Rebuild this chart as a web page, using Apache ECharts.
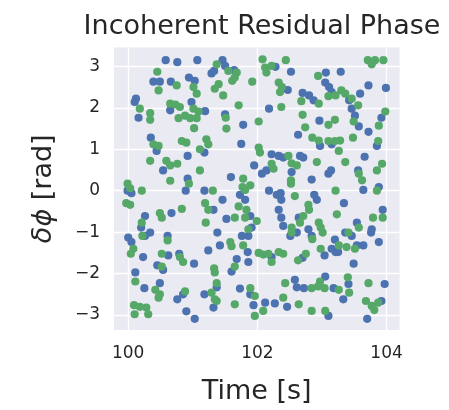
<!DOCTYPE html>
<html>
<head>
<meta charset="utf-8">
<script src="https://cdn.jsdelivr.net/npm/echarts@6/dist/echarts.min.js"></script>
<style>html,body{margin:0;padding:0;background:#fff}#c{width:449px;height:410px}</style>
</head>
<body>
<div id="c"></div>
<script>
const titleText = 'Incoherent Residual Phase';
const xName = 'Time [s]';
const yNameMath = 'δϕ';
const yNameUnit = ' [rad]';
const xTicks = [100, 102, 104];
const yTicks = [-3, -2, -1, 0, 1, 2, 3];

const blueTime = [100.58,100.76,101.07,101.46,101.50,102.52,102.28,101.29,101.33,101.64,103.06,103.29,100.39,100.49,100.66,100.94,101.03,102.47,103.05,103.11,103.15,103.42,103.59,103.72,103.99,100.12,100.10,100.65,100.98,101.19,102.70,102.80,102.87,102.18,103.46,100.16,101.50,101.78,102.96,103.51,103.57,103.92,100.35,100.44,100.92,101.18,101.75,102.63,102.97,103.15,103.72,103.85,100.54,100.92,101.95,102.07,102.22,102.14,102.33,102.40,102.53,102.66,102.71,102.84,103.10,103.14,103.56,103.66,101.59,102.18,102.36,103.64,103.88,99.99,100.05,100.89,101.18,101.46,101.32,101.73,101.81,102.30,102.37,102.33,102.88,102.92,103.34,103.94,100.67,100.26,100.20,100.34,101.52,101.91,101.89,102.37,102.40,102.64,102.79,103.54,103.77,100.00,100.05,100.26,100.61,101.38,101.76,101.86,101.42,101.24,102.51,102.61,102.84,103.20,103.21,103.36,103.46,103.54,103.64,103.76,103.88,100.23,100.62,100.79,101.02,100.45,100.54,101.60,101.68,101.85,101.86,102.22,102.70,103.04,103.15,103.25,103.49,100.11,100.25,100.49,100.76,100.85,101.18,101.37,101.73,101.89,102.58,102.61,102.72,103.18,103.05,103.41,103.97,100.90,101.03,101.32,101.94,102.12,102.27,102.46,103.10,103.33,103.70,103.92];
const bluePhase = [3.15,3.10,3.15,3.15,3.01,2.87,2.99,2.83,2.89,2.91,2.85,2.87,2.63,2.63,2.63,2.73,2.65,2.43,2.61,2.50,2.38,2.18,2.34,2.54,2.48,2.22,2.14,1.94,2.14,1.92,2.36,2.30,2.18,1.98,1.98,1.76,1.84,1.59,1.69,1.81,1.55,1.76,1.28,0.96,0.84,0.92,1.13,1.35,1.08,1.12,1.42,1.08,0.49,0.29,0.61,0.41,0.88,0.49,0.84,0.80,0.45,0.84,0.80,0.27,0.41,0.49,0.49,0.82,0.33,0.00,-0.06,0.02,0.09,0.00,-0.06,0.00,0.00,-0.22,-0.46,-0.10,-0.22,-0.10,-0.22,-0.46,-0.10,-0.22,-0.30,-0.46,-0.54,-0.61,-0.89,-1.01,-0.68,-0.89,-0.61,-0.65,-0.85,-0.65,-0.93,-0.77,-0.93,-1.13,-1.24,-1.09,-1.09,-1.01,-1.09,-1.09,-1.32,-1.44,-1.09,-1.01,-1.09,-1.18,-1.48,-1.01,-1.09,-1.32,-1.32,-1.01,-1.24,-1.60,-1.56,-1.52,-1.76,-1.80,-1.91,-1.95,-1.65,-1.48,-1.72,-1.60,-1.62,-1.56,-1.40,-1.48,-1.76,-1.97,-2.35,-2.23,-2.62,-2.50,-2.50,-2.33,-2.36,-2.50,-2.15,-2.33,-2.35,-2.35,-2.07,-2.25,-2.25,-2.91,-3.09,-2.82,-2.76,-2.70,-2.72,-2.80,-3.02,-2.62,-3.09,-2.66];

const greenTime = [101.37,102.08,102.44,102.22,102.12,103.71,103.82,103.95,103.77,100.45,101.55,101.68,102.94,100.47,100.75,101.01,101.06,101.34,101.40,101.47,101.61,101.65,101.92,102.14,102.33,102.38,102.35,103.10,103.30,103.36,103.46,103.21,100.18,100.65,100.73,100.80,101.01,101.09,102.68,102.95,101.71,102.37,103.56,100.34,100.34,100.78,100.88,100.96,101.06,101.02,101.52,101.51,102.02,102.70,102.74,103.10,103.20,103.49,103.98,103.88,100.39,100.47,100.83,100.90,101.21,101.24,101.11,102.85,102.95,103.10,103.20,103.28,103.26,103.48,103.87,100.34,100.59,100.65,100.76,100.65,100.94,101.11,102.02,102.04,102.22,102.25,102.48,102.53,102.52,102.52,102.61,102.92,103.36,103.57,103.93,103.85,101.78,101.77,101.81,101.89,103.21,103.62,103.85,99.99,100.03,100.21,99.97,100.03,101.31,101.19,101.24,101.71,101.83,102.58,102.79,102.80,102.71,103.23,103.94,100.49,100.52,100.83,100.21,101.20,101.65,101.81,101.99,101.86,102.66,102.53,102.95,102.98,103.01,103.57,103.41,103.79,100.08,100.04,100.22,100.61,101.58,101.60,101.78,102.53,102.85,102.98,103.26,103.38,100.52,100.80,100.85,100.52,101.33,101.34,101.65,102.02,102.09,102.17,102.33,102.40,102.22,102.63,102.75,103.51,100.11,100.42,100.49,100.47,100.88,101.29,101.34,101.37,101.89,101.96,102.43,102.84,102.94,103.04,103.26,102.97,103.40,103.42,103.72,100.09,100.10,100.18,100.28,100.31,101.37,101.65,101.96,102.09,102.40,102.64,102.84,103.05,103.68,103.77,103.87,103.81];
const greenPhase = [3.05,3.17,3.15,3.01,2.97,3.15,3.15,3.15,3.05,2.87,2.89,2.85,2.77,2.42,2.54,2.50,2.34,2.46,2.57,2.30,2.65,2.73,2.63,2.85,2.61,2.50,2.38,2.28,2.42,2.34,2.22,2.30,1.98,2.10,2.08,2.02,1.98,1.91,2.16,2.10,2.06,2.02,2.06,1.87,1.71,1.75,1.81,1.75,1.75,1.51,1.50,1.76,1.67,1.83,1.53,1.59,1.71,1.67,1.91,1.57,1.12,1.08,1.20,1.16,1.24,1.12,1.00,1.28,1.21,1.20,1.20,1.21,0.96,1.28,1.20,0.72,0.72,0.61,0.65,0.24,0.17,0.49,1.04,0.92,0.65,0.53,0.84,0.66,0.25,0.17,0.61,0.69,0.69,0.41,0.65,0.49,0.29,0.09,0.02,0.13,0.00,0.25,0.00,0.17,0.06,0.00,-0.30,-0.34,0.00,-0.30,-0.46,-0.38,-0.46,-0.13,-0.34,-0.46,-0.61,-0.57,-0.65,-0.54,-0.65,-0.44,-0.77,-0.77,-0.65,-0.65,-0.73,-0.93,-0.77,-0.89,-0.77,-0.89,-1.01,-0.89,-1.01,-0.65,-1.40,-1.52,-1.09,-1.20,-1.24,-1.34,-1.32,-1.01,-1.17,-1.40,-1.32,-1.36,-1.52,-1.60,-1.72,-1.83,-1.87,-1.97,-1.83,-1.50,-1.54,-1.52,-1.48,-1.52,-1.72,-1.68,-1.52,-1.40,-2.19,-2.39,-2.50,-2.58,-2.43,-2.46,-2.62,-2.23,-2.35,-2.54,-2.23,-2.35,-2.31,-2.35,-2.39,-2.19,-2.09,-2.46,-2.23,-2.76,-2.98,-2.80,-2.82,-2.98,-2.66,-2.74,-3.02,-2.90,-2.58,-2.74,-2.90,-2.90,-2.66,-2.78,-2.70,-2.88];

const zip = (a, b) => a.map((v, i) => [v, b[i]]);
const txt = '#262626';
const ff = 'DejaVu Sans';

const chart = echarts.init(document.getElementById('c'), null, {renderer: 'canvas'});
chart.setOption({
  animation: false,
  backgroundColor: '#ffffff',
  title: {
    text: titleText, left: 257, top: 8, textAlign: 'center',
    textStyle: {fontFamily: ff, fontSize: 27, fontWeight: 'normal', color: txt}
  },
  grid: {left: 114, right: 49.5, top: 47.5, bottom: 75.5, show: true, backgroundColor: '#EAEAF2', borderWidth: 0},
  xAxis: {
    type: 'value', min: 99.78, max: 104.2,
    name: xName, nameLocation: 'middle', nameGap: 48,
    nameTextStyle: {fontFamily: ff, fontSize: 27, color: txt},
    axisLine: {show: false},
    axisTick: {show: false, customValues: xTicks},
    axisLabel: {customValues: xTicks, fontFamily: ff, fontSize: 17, color: txt, margin: 15},
    splitLine: {show: true, lineStyle: {color: '#ffffff', width: 1.3}}
  },
  yAxis: {
    type: 'value', min: -3.36, max: 3.455,
    name: '{m|' + yNameMath + '}' + yNameUnit, nameLocation: 'middle', nameGap: 57, nameRotate: 90,
    nameTextStyle: {fontFamily: ff, fontSize: 27, color: txt,
      rich: {m: {fontFamily: ff, fontSize: 27, fontStyle: 'italic', color: txt}}},
    axisLine: {show: false},
    axisTick: {show: false, customValues: yTicks},
    axisLabel: {customValues: yTicks, fontFamily: ff, fontSize: 17, color: txt, margin: 14,
      formatter: v => (v < 0 ? '\u2212' + Math.abs(v) : String(v))},
    splitLine: {show: true, lineStyle: {color: '#ffffff', width: 1.3}}
  },
  series: [
    {type: 'scatter', data: zip(blueTime, bluePhase), symbol: 'circle', symbolSize: 8.2,
     itemStyle: {color: '#4C72B0', opacity: 1}},
    {type: 'scatter', data: zip(greenTime, greenPhase), symbol: 'circle', symbolSize: 8.2,
     itemStyle: {color: '#55A868', opacity: 1}}
  ]
});
</script>
</body>
</html>
